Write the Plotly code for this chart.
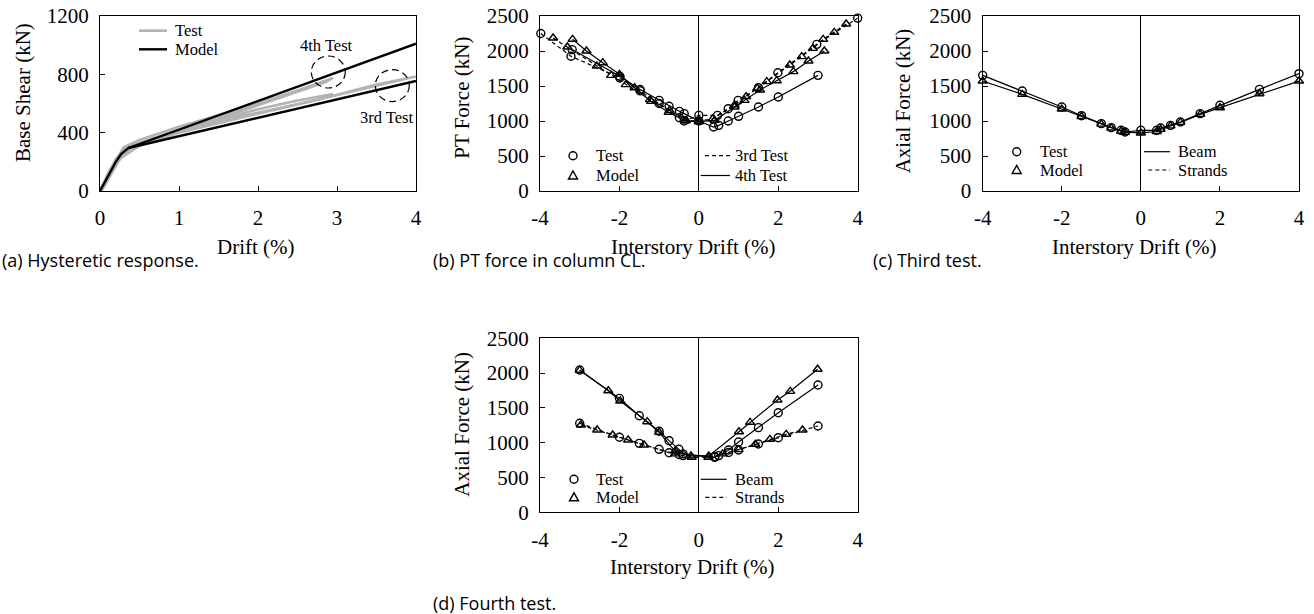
import plotly.graph_objects as go

W, H = 1314, 614
SERIF = "Liberation Serif"
CAPF = "Open Sans"

# ---------------- data ----------------
# (a) Hysteretic response
a_test_x = [0, 0.08, 0.2, 0.35, 0.5, 0.42, 0.3, 0.15, 0.03, 0, None,
            0, 0.12, 0.3, 0.5, 1.0, 1.5, 2.0, 2.5, 2.95, 2.85, 2.4, 1.8, 1.2, 0.7, 0.4, 0.2, 0.05, 0, None,
            0, 0.1, 0.3, 0.55, 1.0, 1.5, 2.0, 2.5, 2.95, 2.8, 2.2, 1.5, 1.0, 0.5, 0.3, 0.1, 0, None,
            0, 0.1, 0.3, 0.55, 1.0, 2.0, 3.0, 3.5, 4.0, 3.8, 3.0, 2.0, 1.0, 0.5, 0.25, 0.05, 0]
a_test_y = [0, 90, 220, 300, 330, 310, 260, 130, 10, 0, None,
            0, 140, 300, 350, 440, 520, 600, 690, 775, 745, 660, 550, 450, 360, 300, 200, 30, 0, None,
            0, 110, 290, 340, 420, 490, 560, 620, 665, 630, 560, 480, 420, 330, 270, 100, 0, None,
            0, 100, 280, 335, 410, 530, 660, 730, 785, 760, 660, 530, 400, 310, 220, 30, 0]
a_model_x = [0, 0.1, 0.2, 0.27, 0.36, 4.0, None, 0.36, 4.0]
a_model_y = [0, 100, 200, 255, 295, 1010, None, 295, 755]
a_circle_x = [2.89, 3.70]
a_circle_y = [816, 723]
a_label_x = [2.87, 3.63]
a_label_y = [1001, 504]
a_label_t = ["4th Test", "3rd Test"]

# (b) PT force in column CL
b_test3_x = [-3.98, -3.22, -1.99, -1.48, -1.0, -0.49, -0.37, 0.0, 0.47, 0.74, 0.99, 1.5, 1.99, 2.97, 4.0]
b_test3_y = [2250, 1925, 1615, 1430, 1250, 1048, 1000, 1081, 1081, 1176, 1295, 1476, 1690, 2095, 2470]
b_model3_x = [-3.67, -3.31, -2.57, -2.21, -1.84, -1.23, -0.74, -0.32, 0.0, 0.35, 0.9, 1.19, 1.47, 1.71,
              2.29, 2.59, 2.87, 3.13, 3.41, 3.71]
b_model3_y = [2186, 2057, 1786, 1652, 1519, 1305, 1152, 1010, 1000, 1030, 1230, 1348, 1467, 1562,
              1800, 1919, 2038, 2167, 2267, 2386]
b_test4_x = [-3.19, -1.99, -1.48, -1.0, -0.75, -0.49, -0.37, 0.0, 0.37, 0.5, 0.74, 1.0, 1.5, 2.0, 3.0]
b_test4_y = [2020, 1638, 1450, 1295, 1210, 1138, 1105, 1000, 914, 938, 1000, 1067, 1200, 1343, 1652]
b_model4_x = [-3.18, -2.83, -2.42, -2.0, -1.62, -1.2, -0.76, -0.35, 0.0, 0.4, 0.9, 1.15, 1.54, 1.96,
              2.38, 2.76, 3.16]
b_model4_y = [2167, 2000, 1833, 1667, 1476, 1280, 1124, 1000, 990, 1010, 1200, 1295, 1443, 1576,
              1705, 1857, 2000]

# (c) Third test
c_x = [-4, -3, -2, -1.5, -1, -0.75, -0.5, -0.4, 0, 0.4, 0.5, 0.75, 1, 1.5, 2, 3, 4]
c_test = [1652, 1429, 1200, 1076, 962, 905, 867, 843, 867, 867, 900, 938, 986, 1105, 1224, 1452, 1676]
c_model = [1571, 1381, 1171, 1065, 955, 900, 855, 840, 829, 850, 880, 930, 980, 1095, 1190, 1390, 1571]

# (d) Fourth test
d_beam_test_x = [-3, -2, -1.5, -1, -0.75, -0.5, -0.4, 0.4, 0.5, 0.75, 1, 1.5, 2, 3]
d_beam_test_y = [2045, 1637, 1388, 1165, 1029, 905, 840, 790, 815, 895, 1010, 1216, 1431, 1829]
d_beam_model_x = [-3, -2.28, -1.98, -1.3, -1.0, -0.6, -0.2, 0.25, 1.01, 1.29, 1.98, 2.3, 2.99]
d_beam_model_y = [2040, 1747, 1599, 1302, 1150, 880, 810, 810, 1158, 1293, 1614, 1738, 2055]
d_str_test_x = [-3, -2, -1.5, -1, -0.75, -0.5, -0.4, 0.4, 0.75, 1, 1.5, 2, 3]
d_str_test_y = [1279, 1078, 991, 905, 856, 830, 815, 800, 860, 895, 981, 1072, 1240]
d_str_model_x = [-2.97, -2.56, -2.17, -1.78, -1.38, -0.6, -0.18, 0.24, 0.6, 1.0, 1.42, 1.79, 2.2, 2.61]
d_str_model_y = [1254, 1183, 1111, 1039, 967, 840, 790, 790, 840, 900, 977, 1049, 1121, 1183]

# tick labels
drift_ticks = [-4, -2, 0, 2, 4]
drift_ticktext = ["-4", "-2", "0", "2", "4"]

# ---------------- helpers ----------------
def PX(x):
    return x / W

def PY(y):
    return 1 - y / H

fig = go.Figure()

LW = 1.2
MS = 8
DASH = "4px,3px"

def series(x, y, ax, sym, dash):
    fig.add_trace(go.Scatter(
        x=x, y=y, xaxis="x" + ax, yaxis="y" + ax, mode="lines+markers",
        line=dict(color="black", width=LW, dash=dash),
        marker=dict(symbol=sym, size=MS, color="black", line=dict(width=1.4, color="black")),
        cliponaxis=False, showlegend=False, hoverinfo="skip"))

# (a)
fig.add_trace(go.Scatter(x=a_test_x, y=a_test_y, xaxis="x", yaxis="y", mode="lines",
                         line=dict(color="#b3b3b3", width=2.6), showlegend=False, hoverinfo="skip"))
fig.add_trace(go.Scatter(x=a_model_x, y=a_model_y, xaxis="x", yaxis="y", mode="lines",
                         line=dict(color="black", width=2.4), showlegend=False, hoverinfo="skip"))

# (b)
series(b_test3_x, b_test3_y, "2", "circle-open", DASH)
series(b_model3_x, b_model3_y, "2", "triangle-up-open", DASH)
series(b_test4_x, b_test4_y, "2", "circle-open", "solid")
series(b_model4_x, b_model4_y, "2", "triangle-up-open", "solid")

# (c)
series(c_x, c_test, "3", "circle-open", "solid")
series(c_x, c_model, "3", "triangle-up-open", "solid")

# (d)
series(d_beam_test_x, d_beam_test_y, "4", "circle-open", "solid")
series(d_beam_model_x, d_beam_model_y, "4", "triangle-up-open", "solid")
series(d_str_test_x, d_str_test_y, "4", "circle-open", DASH)
series(d_str_model_x, d_str_model_y, "4", "triangle-up-open", DASH)

# ---------------- axes ----------------
def axis(domain, rng, dtick, zeroline=False, anchor=None, standoff=8, drift=False):
    d = dict(domain=domain, range=rng, dtick=dtick, showline=True, linecolor="black", linewidth=1.3,
             mirror=True, ticks="inside", ticklen=5, tickwidth=1.2, tickcolor="black",
             showgrid=False, zeroline=zeroline, zerolinecolor="black", zerolinewidth=1.2,
             tickfont=dict(family=SERIF, size=21, color="black"), fixedrange=True,
             automargin=False, ticklabelstandoff=standoff)
    if drift:
        d["tickmode"] = "array"
        d["tickvals"] = drift_ticks
        d["ticktext"] = drift_ticktext
    if anchor:
        d["anchor"] = anchor
    return d

top_y = [PY(191), PY(16)]
bot_y = [PY(512.3), PY(338.3)]
xa = [PX(100), PX(416)]
xb = [PX(540), PX(857.7)]
xc = [PX(982.7), PX(1299)]

shapes = []
annotations = []

def text(x, y, t, size=16.5, xanchor="left", angle=0, family=SERIF, xref="paper", yref="paper"):
    annotations.append(dict(x=x, y=y, xref=xref, yref=yref, text=t, showarrow=False,
                            xanchor=xanchor, yanchor="middle", textangle=angle,
                            font=dict(family=family, size=size, color="black")))

def hline(x0, x1, y, color="black", width=1.2, dash="solid"):
    shapes.append(dict(type="line", xref="paper", yref="paper", x0=PX(x0), x1=PX(x1),
                       y0=PY(y), y1=PY(y), line=dict(color=color, width=width, dash=dash)))

def circ(cx, cy, r=4):
    shapes.append(dict(type="circle", xref="paper", yref="paper", xsizemode="pixel", ysizemode="pixel",
                       xanchor=PX(cx), yanchor=PY(cy), x0=-r, x1=r, y0=-r, y1=r,
                       line=dict(color="black", width=1.4)))

def tri(cx, cy):
    shapes.append(dict(type="path", xref="paper", yref="paper", xsizemode="pixel", ysizemode="pixel",
                       xanchor=PX(cx), yanchor=PY(cy), path="M -4.5,-3.5 L 4.5,-3.5 L 0,4.5 Z",
                       line=dict(color="black", width=1.4)))

# panel (a) decorations
for cx, cy in zip(a_circle_x, a_circle_y):
    shapes.append(dict(type="circle", xref="x", yref="y", xsizemode="pixel", ysizemode="pixel",
                       xanchor=cx, yanchor=cy, x0=-17, x1=17, y0=-16, y1=16,
                       line=dict(color="black", width=1.2, dash="7px,4px")))
for lx, ly, lt in zip(a_label_x, a_label_y, a_label_t):
    text(lx, ly, lt, xanchor="center", xref="x", yref="y")
hline(139, 167, 30.7, color="#b3b3b3", width=2.6)
hline(139, 167, 49.3, color="black", width=2.4)
text(PX(173), PY(30.7), "Test")
text(PX(173), PY(49.3), "Model")

# panel (b) legend
circ(573, 155.7); tri(573, 175.5)
text(PX(594), PY(155.7), "Test"); text(PX(594), PY(175.5), "Model")
hline(705, 730, 155.7, dash="4px,3px"); hline(700.7, 730, 175.5)
text(PX(732.5), PY(155.7), "3rd Test"); text(PX(732.5), PY(175.5), "4th Test")

# panel (c) legend
circ(1016.7, 151.7); tri(1016.7, 170)
text(PX(1037.7), PY(151.7), "Test"); text(PX(1037.7), PY(170), "Model")
hline(1144, 1170, 151.7); hline(1148.3, 1170, 170, dash="4px,3px")
text(PX(1176), PY(151.7), "Beam"); text(PX(1176), PY(170), "Strands")

# panel (d) legend
circ(574, 479.3); tri(574, 497.3)
text(PX(594.3), PY(479.3), "Test"); text(PX(594.3), PY(497.3), "Model")
hline(700.7, 726.7, 479.3); hline(705.3, 726.7, 497.3, dash="4px,3px")
text(PX(732.7), PY(479.3), "Beam"); text(PX(732.7), PY(497.3), "Strands")

# axis titles
text(PX(23), PY(93), "Base Shear (kN)", size=21, xanchor="center", angle=-90)
text(PX(461.7), PY(98), "PT Force (kN)", size=21, xanchor="center", angle=-90)
text(PX(903.3), PY(101), "Axial Force (kN)", size=21, xanchor="center", angle=-90)
text(PX(461.7), PY(424), "Axial Force (kN)", size=21, xanchor="center", angle=-90)
text(PX(256), PY(246.7), "Drift (%)", size=21, xanchor="center")
text(PX(693.3), PY(246.7), "Interstory Drift (%)", size=21, xanchor="center")
text(PX(1134), PY(246.7), "Interstory Drift (%)", size=21, xanchor="center")
text(PX(691.7), PY(566.7), "Interstory Drift (%)", size=21, xanchor="center")

# captions
text(PX(0), PY(260), "(a) Hysteretic response.", size=18, family=CAPF)
text(PX(431), PY(260), "(b) PT force in column CL.", size=18, family=CAPF)
text(PX(871), PY(260), "(c) Third test.", size=18, family=CAPF)
text(PX(431), PY(603), "(d) Fourth test.", size=18, family=CAPF)

fig.update_layout(
    width=W, height=H, margin=dict(l=0, r=0, t=0, b=0, autoexpand=False),
    paper_bgcolor="white", plot_bgcolor="white", showlegend=False,
    xaxis=axis(xa, [0, 4], 1, anchor="y"),
    yaxis=axis(top_y, [0, 1200], 400, anchor="x", standoff=6),
    xaxis2=axis(xb, [-4, 4], 2, zeroline=True, anchor="y2", drift=True),
    yaxis2=axis(top_y, [0, 2500], 500, anchor="x2", standoff=6),
    xaxis3=axis(xc, [-4, 4], 2, zeroline=True, anchor="y3", drift=True),
    yaxis3=axis(top_y, [0, 2500], 500, anchor="x3", standoff=6),
    xaxis4=axis(xb, [-4, 4], 2, zeroline=True, anchor="y4", drift=True),
    yaxis4=axis(bot_y, [0, 2500], 500, anchor="x4", standoff=6),
    shapes=shapes, annotations=annotations,
)

fig.write_html("out.html", config={"displayModeBar": False},
               post_script="document.body.style.margin='0px'; document.body.style.overflow='hidden';")
